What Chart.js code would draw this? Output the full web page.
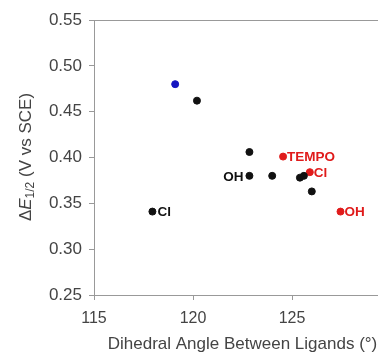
<!DOCTYPE html>
<html>
<head>
<meta charset="utf-8">
<script src="https://cdn.jsdelivr.net/npm/chart.js@4/dist/chart.umd.min.js"></script>
<style>
  html, body { margin: 0; padding: 0; background: #fff; overflow: hidden; }
  #wrap { width: 405px; height: 355px; }
</style>
</head>
<body>
<div id="wrap"><canvas id="myChart" width="405" height="355"></canvas></div>
<script>
// data
var blackX = [120.2, 122.85, 122.85, 124.0, 125.4, 125.6, 126.0, 117.95];
var blackY = [0.462, 0.406, 0.380, 0.380, 0.378, 0.380, 0.363, 0.341];
var blackLabels = ['', '', 'OH', '', '', '', '', 'Cl'];
var blackSide = ['', '', 'left', '', '', '', '', 'right'];

var redX = [124.55, 125.9, 127.45];
var redY = [0.401, 0.384, 0.341];
var redLabels = ['TEMPO', 'Cl', 'OH'];

var blueX = [119.1];
var blueY = [0.480];

var xTicks = [115, 120, 125, 130];
var yTicks = [0.25, 0.30, 0.35, 0.40, 0.45, 0.50, 0.55];

function pts(xs, ys) {
    return xs.map(function (x, i) { return { x: x, y: ys[i] }; });
}

// point labels + frame top + y title with italic/subscript
var extras = {
    id: 'extras',
    afterDatasetsDraw: function (chart) {
        var c = chart.ctx, a = chart.chartArea;
        var xs = chart.scales.x, ys = chart.scales.y;
        c.save();
        c.strokeStyle = '#999';
        c.lineWidth = 1;
        c.beginPath();
        c.moveTo(a.left, a.top + 0.5);
        c.lineTo(a.right, a.top + 0.5);
        c.stroke();

        c.font = 'bold 13.5px "Liberation Sans", Arial, sans-serif';
        c.textBaseline = 'middle';
        c.fillStyle = '#111';
        blackLabels.forEach(function (t, i) {
            if (!t) return;
            var px = xs.getPixelForValue(blackX[i]), py = ys.getPixelForValue(blackY[i]);
            if (blackSide[i] === 'left') { c.textAlign = 'right'; c.fillText(t, px - 6, py + 1); }
            else { c.textAlign = 'left'; c.fillText(t, px + 5, py + 1); }
        });
        c.fillStyle = '#e01b1b';
        c.textAlign = 'left';
        redLabels.forEach(function (t, i) {
            var px = xs.getPixelForValue(redX[i]), py = ys.getPixelForValue(redY[i]);
            c.fillText(t, px + 4, py + 1);
        });

        // y axis title
        c.translate(26, 157);
        c.rotate(-Math.PI / 2);
        c.fillStyle = '#444';
        c.textBaseline = 'middle';
        var parts = [
            { t: '\u0394', f: '17px "Liberation Sans", Arial, sans-serif', dy: 0 },
            { t: 'E', f: 'italic 17px "Liberation Sans", Arial, sans-serif', dy: 0 },
            { t: '1/2', f: '12px "Liberation Sans", Arial, sans-serif', dy: 5 },
            { t: ' (V vs SCE)', f: '17px "Liberation Sans", Arial, sans-serif', dy: 0 }
        ];
        var w = 0;
        parts.forEach(function (p) { c.font = p.f; w += c.measureText(p.t).width; });
        var x0 = -w / 2;
        c.textAlign = 'left';
        parts.forEach(function (p) {
            c.font = p.f;
            c.fillText(p.t, x0, p.dy);
            x0 += c.measureText(p.t).width;
        });
        c.restore();
    }
};

var ctx = document.getElementById('myChart').getContext('2d');
var chart = new Chart(ctx, {
    type: 'scatter',
    data: {
        datasets: [{
            data: pts(blackX, blackY),
            backgroundColor: '#111',
            borderColor: '#111',
            pointRadius: 3.5
        }, {
            data: pts(redX, redY),
            backgroundColor: '#e01b1b',
            borderColor: '#e01b1b',
            pointRadius: 3.5
        }, {
            data: pts(blueX, blueY),
            backgroundColor: '#1515c0',
            borderColor: '#1515c0',
            pointRadius: 3.5
        }]
    },
    options: {
        responsive: false,
        animation: false,
        layout: { padding: { top: 20, right: 14, left: 0, bottom: 0 } },
        plugins: { legend: { display: false }, tooltip: { enabled: false } },
        scales: {
            x: {
                type: 'linear',
                min: 115, max: 130,
                afterBuildTicks: function (s) { s.ticks = xTicks.map(function (v) { return { value: v }; }); },
                afterFit: function (s) { s.height = 60; s.paddingLeft = 0; s.paddingRight = 0; },
                grid: { drawOnChartArea: false, drawTicks: true, tickLength: 5, color: '#999' },
                border: { display: true, color: '#999' },
                ticks: { color: '#444', padding: 9, font: { family: '"Liberation Sans", Arial', size: 16 } },
                title: {
                    display: true,
                    text: 'Dihedral Angle Between Ligands (\u00b0)',
                    color: '#444',
                    padding: { top: 4, bottom: 0 },
                    font: { family: '"Liberation Sans", Arial', size: 17 }
                }
            },
            y: {
                type: 'linear',
                min: 0.25, max: 0.55,
                afterBuildTicks: function (s) { s.ticks = yTicks.map(function (v) { return { value: v }; }); },
                afterFit: function (s) { s.width = 94; s.paddingTop = 0; s.paddingBottom = 0; },
                grid: { drawOnChartArea: false, drawTicks: true, tickLength: 5, color: '#999' },
                border: { display: true, color: '#999' },
                ticks: {
                    color: '#444', padding: 7,
                    font: { family: '"Liberation Sans", Arial', size: 17 },
                    callback: function (v) { return v.toFixed(2); }
                }
            }
        }
    },
    plugins: [extras]
});
</script>
</body>
</html>
